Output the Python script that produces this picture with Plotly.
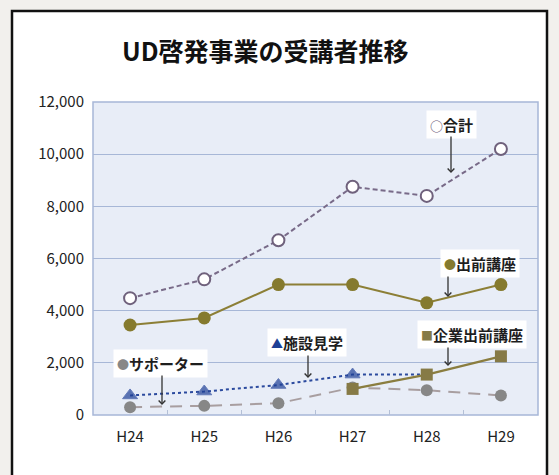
import plotly.graph_objects as go

years = ["H24", "H25", "H26", "H27", "H28", "H29"]
total = [4480, 5200, 6700, 8750, 8400, 10200]
demae = [3450, 3720, 5000, 5000, 4300, 5000]
shisetsu = [750, 900, 1150, 1550, 1550, None]
supporter = [300, 350, 450, 1050, 950, 750]
kigyo = [None, None, None, 1000, 1550, 2250]
yticks = [0, 2000, 4000, 6000, 8000, 10000, 12000]

FONT = "Noto Sans CJK JP"
W, H = 559, 475
L, R, T, B = 93, 21, 102, 60
pw, ph = W - L - R, H - T - B


def px(x):
    return (x - L) / pw


def py(y):
    return (H - B - y) / ph


fig = go.Figure()
fig.add_trace(go.Scatter(x=years, y=supporter, mode="lines+markers",
                         line=dict(color="#a89ea0", width=2, dash="12px,8px"),
                         marker=dict(symbol="circle", size=12, color="#878787")))
fig.add_trace(go.Scatter(x=years, y=shisetsu, mode="lines+markers",
                         line=dict(color="#2b4a9e", width=2, dash="dot"),
                         marker=dict(symbol="triangle-up", size=[13, 13, 13, 13, 0, 0], color="#1e3f95")))
fig.add_trace(go.Scatter(x=years, y=kigyo, mode="lines+markers",
                         line=dict(color="#8a7d3f", width=2.2),
                         marker=dict(symbol="square", size=12, color="#867a46")))
fig.add_trace(go.Scatter(x=years, y=demae, mode="lines+markers",
                         line=dict(color="#8c7f36", width=2),
                         marker=dict(symbol="circle", size=13, color="#857a2e")))
fig.add_trace(go.Scatter(x=years, y=total, mode="lines+markers",
                         line=dict(color="#786a88", width=2, dash="5px,3px"),
                         marker=dict(symbol="circle", size=12, color="white",
                                     line=dict(color="#6f617c", width=2))))

shapes = [
    dict(type="rect", xref="paper", yref="paper", layer="below",
         x0=px(12), x1=px(547), y0=py(490), y1=py(11),
         fillcolor="white", line=dict(color="#111111", width=2.5)),
    dict(type="rect", xref="paper", yref="paper", layer="below",
         x0=0, x1=1, y0=0, y1=1, fillcolor="#e8edf7",
         line=dict(color="#a7b7d7", width=1.5)),
]


def sym(ch, color, size=11):
    return "<span style='color:%s;font-size:%dpx'>%s</span>" % (color, size, ch)


labels = [
    (sym("○", "#6f617c", 13) + "合計", 451, 124),
    (sym("●", "#857a2e", 12) + "出前講座", 480, 263),
    (sym("■", "#867a46", 12) + "企業出前講座", 472, 334),
    (sym("▲", "#1e3f95", 12) + "施設見学", 307, 342),
    (sym("●", "#878787", 12) + "サポーター", 160, 363),
]
arrows = [
    (451, 135, 173),
    (448, 275, 297),
    (448, 346, 366),
    (308, 354, 378),
    (162, 374, 405),
]

ann = []
for text, x, y in labels:
    ann.append(dict(text="<b>" + text + "</b>", xref="paper", yref="paper",
                    x=px(x), y=py(y), xanchor="center", yanchor="middle", showarrow=False,
                    font=dict(family=FONT, size=15, color="#1e1e1e"),
                    bgcolor="white", borderpad=3))
for x, y0, y1 in arrows:
    ann.append(dict(text="", xref="paper", yref="paper",
                    x=px(x), y=py(y1), ax=0, ay=-(y1 - y0), showarrow=True,
                    arrowhead=4, arrowsize=1, arrowwidth=1.3, arrowcolor="#333333"))
ann.append(dict(text="<b>UD啓発事業の受講者推移</b>", xref="paper", yref="paper",
                x=px(265), y=py(50), xanchor="center", yanchor="middle", showarrow=False,
                font=dict(family=FONT, size=25, color="#111111")))

fig.update_layout(
    width=W, height=H,
    margin=dict(l=L, r=R, t=T, b=B, pad=0),
    paper_bgcolor="#f2f0ed",
    plot_bgcolor="rgba(0,0,0,0)",
    showlegend=False,
    shapes=shapes,
    annotations=ann,
    xaxis=dict(type="category", range=[-0.5, 5.5], showgrid=False,
               tickson="boundaries", ticks="inside", ticklen=5, tickcolor="#b3bfd6",
               showline=False, zeroline=False,
               tickfont=dict(family=FONT, size=15, color="#222222"), ticklabelstandoff=11),
    yaxis=dict(range=[0, 12000], tickvals=yticks, tickformat=",",
               gridcolor="#a7b7d7", gridwidth=1, zeroline=False, showline=False,
               ticks="", tickfont=dict(family=FONT, size=15, color="#222222"),
               ticklabelstandoff=8),
)

fig.write_html("out.html", config={"displayModeBar": False},
               post_script="document.body.style.margin='0';")
